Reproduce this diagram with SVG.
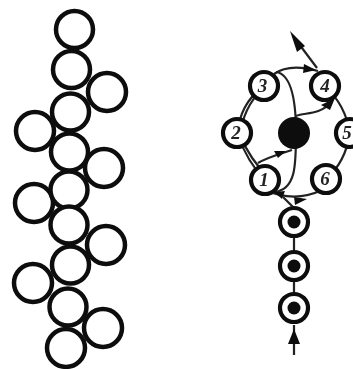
<svg xmlns="http://www.w3.org/2000/svg" width="353" height="369" viewBox="0 0 353 369">
<defs>
<style>
.o{fill:#fff;stroke:#111;stroke-width:4.5}
.l{fill:none;stroke:#222;stroke-width:2.2}
.a{fill:#111}
.d{font-family:"Liberation Serif",serif;font-style:italic;font-weight:bold;font-size:19px;fill:#222;text-anchor:middle}
.n{fill:#fff;stroke:#111;stroke-width:4.2}
</style>
<filter id="soft" filterUnits="userSpaceOnUse" x="0" y="0" width="353" height="369"><feGaussianBlur stdDeviation="0.55"/></filter>
</defs>
<g filter="url(#soft)">
<g id="chain">
<circle class="o" cx="74.5" cy="29.5" r="18.5"/>
<circle class="o" cx="71.5" cy="69.5" r="18.5"/>
<circle class="o" cx="107" cy="92" r="19"/>
<circle class="o" cx="70.5" cy="112" r="18.5"/>
<circle class="o" cx="35" cy="131" r="19"/>
<circle class="o" cx="69.5" cy="152" r="18.5"/>
<circle class="o" cx="104" cy="168" r="19"/>
<circle class="o" cx="34" cy="203" r="19"/>
<circle class="o" cx="69" cy="190" r="18.5"/>
<circle class="o" cx="69" cy="225" r="18.5"/>
<circle class="o" cx="106" cy="245" r="19"/>
<circle class="o" cx="70.5" cy="265" r="18.5"/>
<circle class="o" cx="33" cy="283" r="19"/>
<circle class="o" cx="68" cy="307" r="18.5"/>
<circle class="o" cx="103" cy="328" r="19"/>
<circle class="o" cx="66" cy="348" r="19"/>
</g>
<g id="connectors">
<path class="l" d="M264 86C245 100 240 115 237 133M268 84C252 97 244 113 241 129"/>
<path class="l" d="M237 133C243 150 252 167 265 180M241 137C247 152 256 165 268 177"/>
<path class="l" d="M274 74C285 66 300 66 318 71"/>
<path class="l" d="M325 86C340 100 347 115 350 133C347 152 340 167 326 179"/>
<path class="l" d="M265 190C283 198 303 199 322 190"/>
<path class="l" d="M276 72C290 74 296 95 296 133C296 165 296 190 274 192"/>
<path class="l" d="M296 116C305 112 318 116 332 102"/>
<path class="l" d="M258 163C268 157 280 154 292 150"/>
<path class="l" d="M317 68L293 36"/>
<path class="l" d="M283 197L294 208V300"/>
<path class="l" d="M294 325V355"/>
<path class="a" d="M290 31L305 46L297 52Z"/>
<path class="a" d="M316 70L303 73L304 64Z"/>
<path class="a" d="M335 98L330 110L321 105Z"/>
<path class="a" d="M286 151L278 158L274 151Z"/>
<path class="a" d="M307 199L295 205L294 197Z"/>
<path class="a" d="M274 192L285 191L282 199Z"/>
<path class="a" d="M294 329L300 344H288Z"/>
</g>
<g id="n3"><circle class="n" cx="264" cy="86" r="14"/><text class="d" x="262.500" y="92">3</text></g>
<g id="n4"><circle class="n" cx="325" cy="86" r="14"/><text class="d" x="325" y="92">4</text></g>
<g id="n2"><circle class="n" cx="237" cy="133" r="14"/><text class="d" x="236" y="139">2</text></g>
<g id="n5"><circle class="n" cx="350" cy="133" r="14"/><text class="d" x="347" y="139">5</text></g>
<g id="n1"><circle class="n" cx="265" cy="180" r="14"/><text class="d" x="264" y="186">1</text></g>
<g id="n6"><circle class="n" cx="326" cy="179" r="14"/><text class="d" x="325" y="185">6</text></g>
<g id="core"><circle cx="294" cy="133" r="16" fill="#0a0a0a"/></g>
<g id="s1"><circle class="n" cx="294" cy="222" r="14"/><circle cx="294" cy="222" r="6.500" fill="#0a0a0a"/></g>
<g id="s2"><circle class="n" cx="294" cy="266" r="14"/><circle cx="294" cy="266" r="6.500" fill="#0a0a0a"/></g>
<g id="s3"><circle class="n" cx="294" cy="308" r="14"/><circle cx="294" cy="308" r="6.500" fill="#0a0a0a"/></g>
</g>
</svg>
